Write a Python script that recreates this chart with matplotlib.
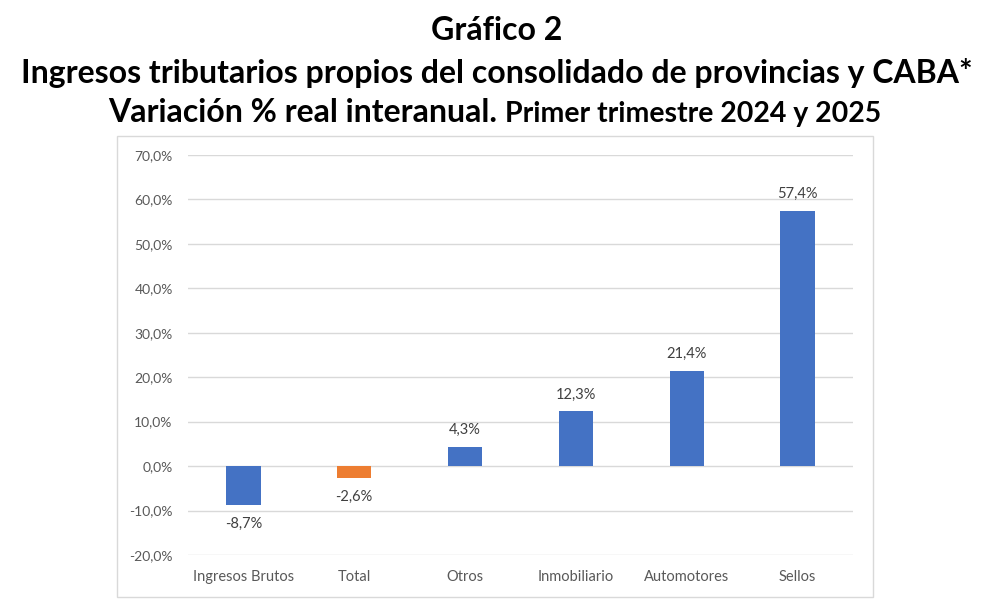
import numpy as np
import matplotlib.pyplot as plt
from matplotlib.patches import Rectangle

# Data
categorias = ["Ingresos Brutos", "Total", "Otros", "Inmobiliario", "Automotores", "Sellos"]
variacion = [-8.7, -2.6, 4.3, 12.3, 21.4, 57.4]
colores = ["#4472C4", "#ED7D31", "#4472C4", "#4472C4", "#4472C4", "#4472C4"]
yticks = [-20, -10, 0, 10, 20, 30, 40, 50, 60, 70]

plt.rcParams['font.family'] = ['Lato', 'DejaVu Sans']

fig = plt.figure(figsize=(10, 6.06), dpi=100)
ax = fig.add_axes([0.188, 0.0842, 0.665, 0.66])

x = np.arange(len(categorias))
bars = ax.bar(x, variacion, width=0.31, color=colores, zorder=3)

for xi, v in zip(x, variacion):
    off = 12 if v >= 0 else -14
    ax.annotate(f"{v:.1f}%".replace(".", ","), (xi, v), xytext=(0, off),
                textcoords="offset points", ha="center", va="center",
                fontsize=10.5, color="#404040")

ax.set_ylim(-20, 70)
ax.set_xlim(-0.5, len(categorias) - 0.5)
ax.set_yticks(yticks)
ax.set_yticklabels([f"{t:.1f}%".replace(".", ",") for t in yticks])
ax.set_xticks(x)
ax.set_xticklabels(categorias)
ax.tick_params(axis="both", length=0, labelsize=10.5, colors="#595959")
ax.tick_params(axis="y", pad=11, labelsize=10)
ax.tick_params(axis="x", pad=11)
ax.yaxis.grid(True, color="#D9D9D9", lw=1, zorder=0)
for s in ax.spines.values():
    s.set_visible(False)

# chart area border
fig.patches.append(Rectangle((0.117, 0.0149), 0.756, 0.7607, transform=fig.transFigure,
                             fill=False, edgecolor="#D9D9D9", lw=1))

fig.text(0.497, 1 - 40/606, "Gráfico 2", ha="center", va="baseline",
         fontsize=23, fontweight="bold", color="black")
fig.text(0.497, 1 - 83/606, "Ingresos tributarios propios del consolidado de provincias y CABA*",
         ha="center", va="baseline", fontsize=23, fontweight="bold", color="black")
fig.text(0.497, 1 - 122/606, "Variación % real interanual.", ha="right", va="baseline",
         fontsize=23, fontweight="bold", color="black")
fig.text(0.505, 1 - 122/606, "Primer trimestre 2024 y 2025", ha="left", va="baseline",
         fontsize=20.5, fontweight="bold", color="black")

fig.savefig("out.png", dpi=100)
